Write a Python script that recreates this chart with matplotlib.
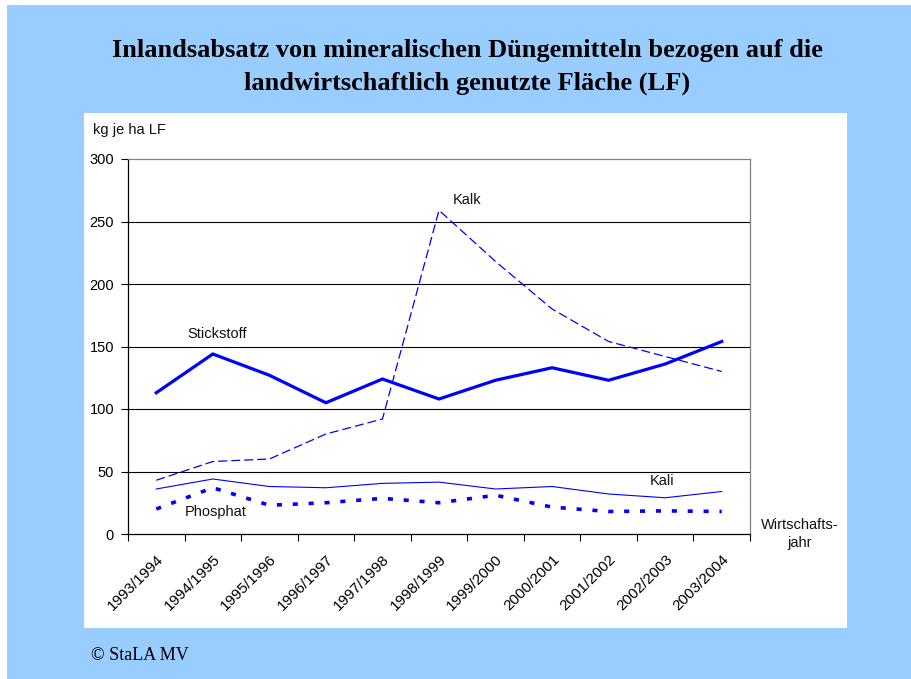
import matplotlib.pyplot as plt
from matplotlib.patches import Rectangle
from matplotlib.transforms import ScaledTranslation

# Wirtschaftsjahre and values (kg je ha LF)
years = ['1993/1994', '1994/1995', '1995/1996', '1996/1997', '1997/1998', '1998/1999',
         '1999/2000', '2000/2001', '2001/2002', '2002/2003', '2003/2004']
stickstoff = [113, 144, 127, 105, 124, 108, 123, 133, 123, 136, 154]
kalk = [43, 58, 60, 80, 92, 259, 218, 180, 154, 142, 130]
kali = [36, 44, 38, 37, 40.5, 41.5, 36, 38, 32, 29, 34]
phosphat = [20, 37, 23, 25, 28.5, 25, 31, 21.5, 18, 18.5, 18]

blue = '#0000FF'
bg = '#99CCFF'

fig = plt.figure(figsize=(9.12, 6.79), dpi=100)
fig.patches.append(Rectangle((7 / 912, 0), 1, 674 / 679, transform=fig.transFigure,
                             facecolor=bg, edgecolor='none', zorder=-2))
fig.patches.append(Rectangle((84 / 912, 51 / 679), 763 / 912, 515 / 679,
                             transform=fig.transFigure, facecolor='white',
                             edgecolor='none', zorder=-1))

ax = fig.add_axes([128 / 912, 145 / 679, 622 / 912, 375 / 679])
ax.set_facecolor('none')
ax.set_zorder(1)

x = list(range(len(years)))
ax.plot(x, stickstoff, color=blue, lw=2.3, solid_joinstyle='miter', zorder=3)
ax.plot(x, kalk, color=blue, lw=0.9, dashes=(7.2, 3.2), zorder=3)
ax.plot(x, kali, color=blue, lw=0.8, zorder=3)
ax.plot(x, phosphat, color=blue, lw=2.6, dashes=(1.4, 3.0), dash_capstyle='butt', zorder=3)

ax.set_xlim(-0.5, len(years) - 0.5)
ax.set_ylim(0, 300)
ax.set_yticks(range(0, 301, 50))
for v in range(50, 300, 50):
    ax.axhline(v, color='black', lw=0.8, zorder=1)

ax.set_xticks([i - 0.5 for i in range(len(years) + 1)])
ax.set_xticklabels([])
ax.set_xticks(x, minor=True)
ax.set_xticklabels(years, minor=True, rotation=45, ha='right', va='top',
                   rotation_mode='anchor', fontsize=11, family='Liberation Sans')
shift = ScaledTranslation(-7 / 100, 0, fig.dpi_scale_trans)
for lbl in ax.get_xticklabels(minor=True):
    lbl.set_transform(lbl.get_transform() + shift)
ax.tick_params(axis='x', which='minor', length=0, pad=13)
ax.tick_params(axis='x', which='major', length=5, width=0.8, color='black')
ax.tick_params(axis='y', length=5, width=0.8, pad=5, labelsize=10.5)
for lbl in ax.get_yticklabels():
    lbl.set_family('Liberation Sans')

ax.spines['left'].set_color('black')
ax.spines['bottom'].set_color('black')
ax.spines['top'].set_color('#808080')
ax.spines['right'].set_color('#808080')
for s in ax.spines.values():
    s.set_linewidth(0.9)

sans = dict(family='Liberation Sans', fontsize=10.5, color='#111111')
fig.text(217 / 912, 1 - 334 / 679, 'Stickstoff', ha='center', va='center', **sans)
fig.text(467 / 912, 1 - 200 / 679, 'Kalk', ha='center', va='center', **sans)
fig.text(662 / 912, 1 - 481 / 679, 'Kali', ha='center', va='center', **sans)
fig.text(216 / 912, 1 - 512 / 679, 'Phosphat', ha='center', va='center', **sans)
fig.text(93 / 912, 1 - 130 / 679, 'kg je ha LF', ha='left', va='center', **sans)
fig.text(800 / 912, 1 - 534 / 679, 'Wirtschafts-\njahr', ha='center', va='center',
         linespacing=1.3, **sans)

serif = dict(family='Liberation Serif', fontweight='bold', fontsize=19)
fig.text(467 / 912, 1 - 50 / 679, 'Inlandsabsatz von mineralischen Düngemitteln bezogen auf die',
         ha='center', va='center', **serif)
fig.text(467 / 912, 1 - 83 / 679, 'landwirtschaftlich genutzte Fläche (LF)',
         ha='center', va='center', **serif)
fig.text(91 / 912, 1 - 656 / 679, '© StaLA MV', ha='left', va='center',
         family='Liberation Serif', fontsize=13)

fig.savefig('out.png', dpi=100)
